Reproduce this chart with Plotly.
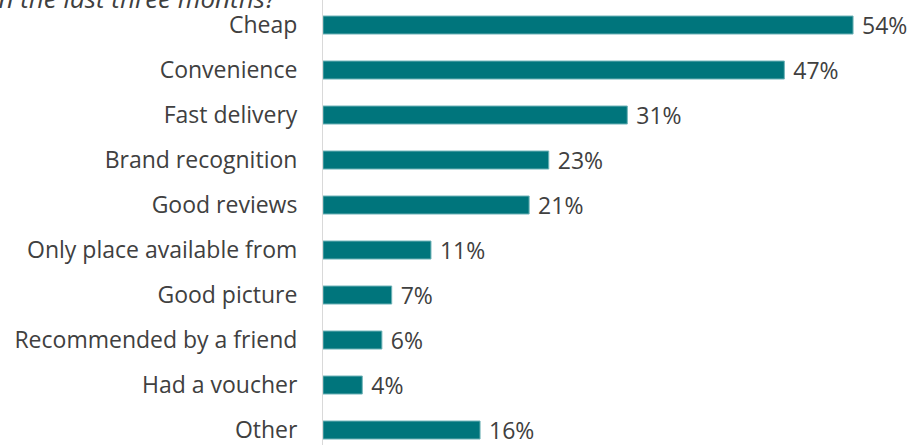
import plotly.graph_objects as go

reasons = [
    "Cheap",
    "Convenience",
    "Fast delivery",
    "Brand recognition",
    "Good reviews",
    "Only place available from",
    "Good picture",
    "Recommended by a friend",
    "Had a voucher",
    "Other",
]
shares = [54, 47, 31, 23, 21, 11, 7, 6, 4, 16]
share_labels = ["54%", "47%", "31%", "23%", "21%", "11%", "7%", "6%", "4%", "16%"]

FONT = "Open Sans, Noto Sans, sans-serif"
TEXT = "#404040"
TEAL = "#00757C"

fig = go.Figure(
    go.Bar(
        y=list(range(len(reasons))),
        x=shares,
        orientation="h",
        width=0.4,
        marker=dict(color=TEAL, line=dict(color="#6fb3b7", width=1)),
        text=[" " + s for s in share_labels],
        textposition="outside",
        constraintext="none",
        textfont=dict(family=FONT, size=23, color=TEXT),
        cliponaxis=False,
        hoverinfo="skip",
    )
)

fig.update_layout(
    width=909,
    height=445,
    margin=dict(l=323, r=0, t=0, b=0),
    paper_bgcolor="white",
    plot_bgcolor="white",
    showlegend=False,
    xaxis=dict(range=[0, 59.7], visible=False, fixedrange=True),
    yaxis=dict(
        range=[9.333, -0.556],
        tickmode="array",
        tickvals=list(range(len(reasons))),
        ticktext=reasons,
        showgrid=False,
        zeroline=False,
        showline=True,
        linecolor="#d9d9d9",
        linewidth=1,
        ticks="",
        ticklabelstandoff=20,
        ticklabeloverflow="allow",
        tickfont=dict(family=FONT, size=23, color=TEXT),
    ),
    annotations=[
        dict(
            text="<i>in the last three months?</i>",
            xref="paper",
            yref="paper",
            x=0.0,
            y=1.0,
            xshift=-323 + 279,
            yshift=2,
            xanchor="right",
            yanchor="middle",
            showarrow=False,
            font=dict(family=FONT, size=26, color=TEXT),
        )
    ],
)

fig.write_html("out.html")
